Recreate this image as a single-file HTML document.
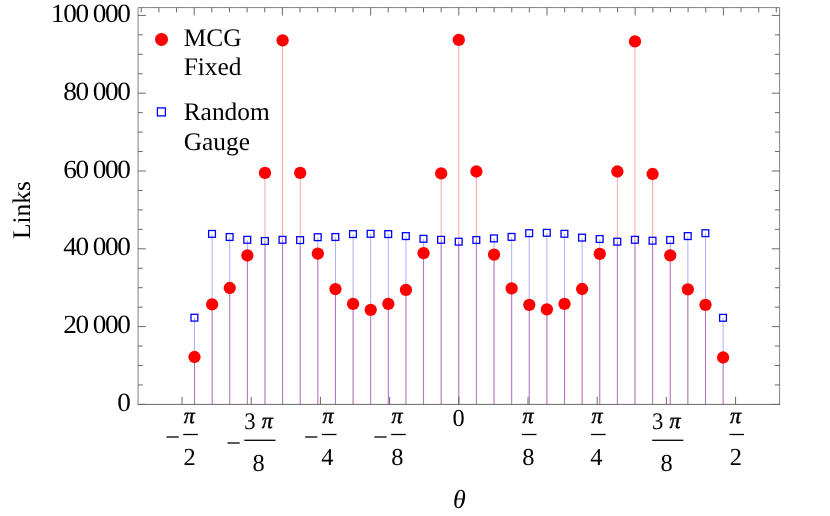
<!DOCTYPE html>
<html><head><meta charset="utf-8"><title>Links vs theta</title>
<style>html,body{margin:0;padding:0;background:#fff;}svg{display:block;}text{font-family:"Liberation Serif",serif;fill:#000;text-rendering:geometricPrecision;}svg{will-change:transform;}</style></head><body>
<svg width="830" height="516" viewBox="0 0 830 516">
<rect width="830" height="516" fill="#fff"/>
<g stroke="#ff0000" stroke-opacity="0.36" stroke-width="1">
<line x1="194.50" y1="357.00" x2="194.50" y2="404.40"/>
<line x1="212.12" y1="304.40" x2="212.12" y2="404.40"/>
<line x1="229.74" y1="288.00" x2="229.74" y2="404.40"/>
<line x1="247.36" y1="255.50" x2="247.36" y2="404.40"/>
<line x1="264.98" y1="172.95" x2="264.98" y2="404.40"/>
<line x1="282.60" y1="40.40" x2="282.60" y2="404.40"/>
<line x1="300.22" y1="172.95" x2="300.22" y2="404.40"/>
<line x1="317.84" y1="253.70" x2="317.84" y2="404.40"/>
<line x1="335.46" y1="289.10" x2="335.46" y2="404.40"/>
<line x1="353.08" y1="303.90" x2="353.08" y2="404.40"/>
<line x1="370.70" y1="309.90" x2="370.70" y2="404.40"/>
<line x1="388.32" y1="303.90" x2="388.32" y2="404.40"/>
<line x1="405.94" y1="289.90" x2="405.94" y2="404.40"/>
<line x1="423.56" y1="253.10" x2="423.56" y2="404.40"/>
<line x1="441.18" y1="173.40" x2="441.18" y2="404.40"/>
<line x1="458.80" y1="39.90" x2="458.80" y2="404.40"/>
<line x1="476.42" y1="171.50" x2="476.42" y2="404.40"/>
<line x1="494.04" y1="254.60" x2="494.04" y2="404.40"/>
<line x1="511.66" y1="288.40" x2="511.66" y2="404.40"/>
<line x1="529.28" y1="304.80" x2="529.28" y2="404.40"/>
<line x1="546.90" y1="309.30" x2="546.90" y2="404.40"/>
<line x1="564.52" y1="303.90" x2="564.52" y2="404.40"/>
<line x1="582.14" y1="289.00" x2="582.14" y2="404.40"/>
<line x1="599.76" y1="253.90" x2="599.76" y2="404.40"/>
<line x1="617.38" y1="171.50" x2="617.38" y2="404.40"/>
<line x1="635.00" y1="41.40" x2="635.00" y2="404.40"/>
<line x1="652.62" y1="174.00" x2="652.62" y2="404.40"/>
<line x1="670.24" y1="255.30" x2="670.24" y2="404.40"/>
<line x1="687.86" y1="289.30" x2="687.86" y2="404.40"/>
<line x1="705.48" y1="304.80" x2="705.48" y2="404.40"/>
<line x1="723.10" y1="357.50" x2="723.10" y2="404.40"/>
</g>
<g stroke="#0000ff" stroke-opacity="0.32" stroke-width="1">
<line x1="194.50" y1="317.70" x2="194.50" y2="404.40"/>
<line x1="212.12" y1="233.90" x2="212.12" y2="404.40"/>
<line x1="229.74" y1="237.00" x2="229.74" y2="404.40"/>
<line x1="247.36" y1="239.80" x2="247.36" y2="404.40"/>
<line x1="264.98" y1="241.00" x2="264.98" y2="404.40"/>
<line x1="282.60" y1="239.80" x2="282.60" y2="404.40"/>
<line x1="300.22" y1="240.10" x2="300.22" y2="404.40"/>
<line x1="317.84" y1="237.20" x2="317.84" y2="404.40"/>
<line x1="335.46" y1="237.00" x2="335.46" y2="404.40"/>
<line x1="353.08" y1="234.10" x2="353.08" y2="404.40"/>
<line x1="370.70" y1="233.80" x2="370.70" y2="404.40"/>
<line x1="388.32" y1="234.10" x2="388.32" y2="404.40"/>
<line x1="405.94" y1="236.10" x2="405.94" y2="404.40"/>
<line x1="423.56" y1="238.80" x2="423.56" y2="404.40"/>
<line x1="441.18" y1="239.80" x2="441.18" y2="404.40"/>
<line x1="458.80" y1="241.70" x2="458.80" y2="404.40"/>
<line x1="476.42" y1="240.00" x2="476.42" y2="404.40"/>
<line x1="494.04" y1="238.40" x2="494.04" y2="404.40"/>
<line x1="511.66" y1="236.90" x2="511.66" y2="404.40"/>
<line x1="529.28" y1="233.20" x2="529.28" y2="404.40"/>
<line x1="546.90" y1="232.80" x2="546.90" y2="404.40"/>
<line x1="564.52" y1="233.80" x2="564.52" y2="404.40"/>
<line x1="582.14" y1="237.60" x2="582.14" y2="404.40"/>
<line x1="599.76" y1="239.00" x2="599.76" y2="404.40"/>
<line x1="617.38" y1="241.70" x2="617.38" y2="404.40"/>
<line x1="635.00" y1="239.80" x2="635.00" y2="404.40"/>
<line x1="652.62" y1="240.70" x2="652.62" y2="404.40"/>
<line x1="670.24" y1="240.00" x2="670.24" y2="404.40"/>
<line x1="687.86" y1="236.10" x2="687.86" y2="404.40"/>
<line x1="705.48" y1="233.20" x2="705.48" y2="404.40"/>
<line x1="723.10" y1="317.80" x2="723.10" y2="404.40"/>
</g>
<path d="M138.05 404.4V7.6H779.6V404.4" stroke="#828282" stroke-width="1" fill="none"/>
<g stroke="#505050" stroke-width="0.85" fill="none">
<path d="M138.05 404.40h7.8M779.6 404.40h-7.8"/>
<path d="M138.05 384.95h4.7M779.6 384.95h-4.7"/>
<path d="M138.05 365.50h4.7M779.6 365.50h-4.7"/>
<path d="M138.05 346.05h4.7M779.6 346.05h-4.7"/>
<path d="M138.05 326.60h7.8M779.6 326.60h-7.8"/>
<path d="M138.05 307.15h4.7M779.6 307.15h-4.7"/>
<path d="M138.05 287.70h4.7M779.6 287.70h-4.7"/>
<path d="M138.05 268.25h4.7M779.6 268.25h-4.7"/>
<path d="M138.05 248.80h7.8M779.6 248.80h-7.8"/>
<path d="M138.05 229.35h4.7M779.6 229.35h-4.7"/>
<path d="M138.05 209.90h4.7M779.6 209.90h-4.7"/>
<path d="M138.05 190.45h4.7M779.6 190.45h-4.7"/>
<path d="M138.05 171.00h7.8M779.6 171.00h-7.8"/>
<path d="M138.05 151.55h4.7M779.6 151.55h-4.7"/>
<path d="M138.05 132.10h4.7M779.6 132.10h-4.7"/>
<path d="M138.05 112.65h4.7M779.6 112.65h-4.7"/>
<path d="M138.05 93.20h7.8M779.6 93.20h-7.8"/>
<path d="M138.05 73.75h4.7M779.6 73.75h-4.7"/>
<path d="M138.05 54.30h4.7M779.6 54.30h-4.7"/>
<path d="M138.05 34.85h4.7M779.6 34.85h-4.7"/>
<path d="M138.05 15.40h7.8M779.6 15.40h-7.8"/>
<path d="M141.28 7.6v4.8"/>
<path d="M158.92 7.6v4.8"/>
<path d="M176.56 7.6v4.8"/>
<path d="M194.20 7.6v7.9"/>
<path d="M211.84 7.6v4.8"/>
<path d="M229.48 7.6v4.8"/>
<path d="M247.12 7.6v4.8"/>
<path d="M264.76 7.6v4.8"/>
<path d="M282.40 7.6v7.9"/>
<path d="M300.04 7.6v4.8"/>
<path d="M317.68 7.6v4.8"/>
<path d="M335.32 7.6v4.8"/>
<path d="M352.96 7.6v4.8"/>
<path d="M370.60 7.6v7.9"/>
<path d="M388.24 7.6v4.8"/>
<path d="M405.88 7.6v4.8"/>
<path d="M423.52 7.6v4.8"/>
<path d="M441.16 7.6v4.8"/>
<path d="M458.80 7.6v7.9"/>
<path d="M476.44 7.6v4.8"/>
<path d="M494.08 7.6v4.8"/>
<path d="M511.72 7.6v4.8"/>
<path d="M529.36 7.6v4.8"/>
<path d="M547.00 7.6v7.9"/>
<path d="M564.64 7.6v4.8"/>
<path d="M582.28 7.6v4.8"/>
<path d="M599.92 7.6v4.8"/>
<path d="M617.56 7.6v4.8"/>
<path d="M635.20 7.6v7.9"/>
<path d="M652.84 7.6v4.8"/>
<path d="M670.48 7.6v4.8"/>
<path d="M688.12 7.6v4.8"/>
<path d="M705.76 7.6v4.8"/>
<path d="M723.40 7.6v7.9"/>
<path d="M741.04 7.6v4.8"/>
<path d="M758.68 7.6v4.8"/>
<path d="M776.32 7.6v4.8"/>
</g>
<g stroke="#686868" stroke-width="1" fill="none">
<path d="M137.55 404.4H780.1"/>
<path d="M182.03 404.4v-7.6" stroke="#505050" stroke-width="0.85"/>
<path d="M251.22 404.4v-7.6" stroke="#505050" stroke-width="0.85"/>
<path d="M320.41 404.4v-7.6" stroke="#505050" stroke-width="0.85"/>
<path d="M389.61 404.4v-7.6" stroke="#505050" stroke-width="0.85"/>
<path d="M458.80 404.4v-7.6" stroke="#505050" stroke-width="0.85"/>
<path d="M527.99 404.4v-7.6" stroke="#505050" stroke-width="0.85"/>
<path d="M597.19 404.4v-7.6" stroke="#505050" stroke-width="0.85"/>
<path d="M666.38 404.4v-7.6" stroke="#505050" stroke-width="0.85"/>
<path d="M735.57 404.4v-7.6" stroke="#505050" stroke-width="0.85"/>
</g>
<g fill="#ff0000">
<circle cx="194.50" cy="357.00" r="6.15"/>
<circle cx="212.12" cy="304.40" r="6.15"/>
<circle cx="229.74" cy="288.00" r="6.15"/>
<circle cx="247.36" cy="255.50" r="6.15"/>
<circle cx="264.98" cy="172.95" r="6.15"/>
<circle cx="282.60" cy="40.40" r="6.15"/>
<circle cx="300.22" cy="172.95" r="6.15"/>
<circle cx="317.84" cy="253.70" r="6.15"/>
<circle cx="335.46" cy="289.10" r="6.15"/>
<circle cx="353.08" cy="303.90" r="6.15"/>
<circle cx="370.70" cy="309.90" r="6.15"/>
<circle cx="388.32" cy="303.90" r="6.15"/>
<circle cx="405.94" cy="289.90" r="6.15"/>
<circle cx="423.56" cy="253.10" r="6.15"/>
<circle cx="441.18" cy="173.40" r="6.15"/>
<circle cx="458.80" cy="39.90" r="6.15"/>
<circle cx="476.42" cy="171.50" r="6.15"/>
<circle cx="494.04" cy="254.60" r="6.15"/>
<circle cx="511.66" cy="288.40" r="6.15"/>
<circle cx="529.28" cy="304.80" r="6.15"/>
<circle cx="546.90" cy="309.30" r="6.15"/>
<circle cx="564.52" cy="303.90" r="6.15"/>
<circle cx="582.14" cy="289.00" r="6.15"/>
<circle cx="599.76" cy="253.90" r="6.15"/>
<circle cx="617.38" cy="171.50" r="6.15"/>
<circle cx="635.00" cy="41.40" r="6.15"/>
<circle cx="652.62" cy="174.00" r="6.15"/>
<circle cx="670.24" cy="255.30" r="6.15"/>
<circle cx="687.86" cy="289.30" r="6.15"/>
<circle cx="705.48" cy="304.80" r="6.15"/>
<circle cx="723.10" cy="357.50" r="6.15"/>
<circle cx="161.5" cy="39.4" r="6.5"/>
</g>
<g fill="none" stroke="#0000ff" stroke-width="1.3">
<rect x="191.00" y="314.30" width="6.8" height="6.8"/>
<rect x="208.62" y="230.50" width="6.8" height="6.8"/>
<rect x="226.24" y="233.60" width="6.8" height="6.8"/>
<rect x="243.86" y="236.40" width="6.8" height="6.8"/>
<rect x="261.48" y="237.60" width="6.8" height="6.8"/>
<rect x="279.10" y="236.40" width="6.8" height="6.8"/>
<rect x="296.72" y="236.70" width="6.8" height="6.8"/>
<rect x="314.34" y="233.80" width="6.8" height="6.8"/>
<rect x="331.96" y="233.60" width="6.8" height="6.8"/>
<rect x="349.58" y="230.70" width="6.8" height="6.8"/>
<rect x="367.20" y="230.40" width="6.8" height="6.8"/>
<rect x="384.82" y="230.70" width="6.8" height="6.8"/>
<rect x="402.44" y="232.70" width="6.8" height="6.8"/>
<rect x="420.06" y="235.40" width="6.8" height="6.8"/>
<rect x="437.68" y="236.40" width="6.8" height="6.8"/>
<rect x="455.30" y="238.30" width="6.8" height="6.8"/>
<rect x="472.92" y="236.60" width="6.8" height="6.8"/>
<rect x="490.54" y="235.00" width="6.8" height="6.8"/>
<rect x="508.16" y="233.50" width="6.8" height="6.8"/>
<rect x="525.78" y="229.80" width="6.8" height="6.8"/>
<rect x="543.40" y="229.40" width="6.8" height="6.8"/>
<rect x="561.02" y="230.40" width="6.8" height="6.8"/>
<rect x="578.64" y="234.20" width="6.8" height="6.8"/>
<rect x="596.26" y="235.60" width="6.8" height="6.8"/>
<rect x="613.88" y="238.30" width="6.8" height="6.8"/>
<rect x="631.50" y="236.40" width="6.8" height="6.8"/>
<rect x="649.12" y="237.30" width="6.8" height="6.8"/>
<rect x="666.74" y="236.60" width="6.8" height="6.8"/>
<rect x="684.36" y="232.70" width="6.8" height="6.8"/>
<rect x="701.98" y="229.80" width="6.8" height="6.8"/>
<rect x="719.60" y="314.40" width="6.8" height="6.8"/>
<rect x="157.40" y="107.90" width="8.0" height="8.0"/>
</g>
<text transform="translate(117.35 411.00) scale(1.04 1)" x="0.00" y="0" font-size="26.2">0</text>
<text transform="translate(117.35 333.20) scale(1.04 1)" x="-52.12 -40.29 -26.06 -23.65 -11.83 0.00" y="0" font-size="26.2">20 000</text>
<text transform="translate(117.35 255.40) scale(1.04 1)" x="-52.12 -40.29 -26.06 -23.65 -11.83 0.00" y="0" font-size="26.2">40 000</text>
<text transform="translate(117.35 177.60) scale(1.04 1)" x="-52.12 -40.29 -26.06 -23.65 -11.83 0.00" y="0" font-size="26.2">60 000</text>
<text transform="translate(117.35 99.80) scale(1.04 1)" x="-52.12 -40.29 -26.06 -23.65 -11.83 0.00" y="0" font-size="26.2">80 000</text>
<text transform="translate(117.35 22.00) scale(1.04 1)" x="-63.94 -52.12 -40.29 -26.06 -23.65 -11.83 0.00" y="0" font-size="26.2">100 000</text>
<text x="183.7" y="46.1" font-size="25.4">MCG</text>
<text x="183.7" y="75.3" font-size="25.4">Fixed</text>
<text x="183.7" y="120.0" font-size="25.4">Random</text>
<text x="183.7" y="149.9" font-size="25.4">Gauge</text>
<text transform="translate(30 210.1) rotate(-90)" font-size="25.4" text-anchor="middle">Links</text>
<text x="459.4" y="507.8" font-size="26" font-style="italic" text-anchor="middle">θ</text>
<path d="M183.25 434.5H197.85" stroke="#000" stroke-width="1.3"/>
<text transform="translate(189.25 422.5) scale(1.0 1)" font-size="22.1" font-style="italic" text-anchor="middle" stroke="#000" stroke-width="0.4">π</text>
<text x="189.55" y="464.8" font-size="24.4" text-anchor="middle">2</text>
<path d="M166.45 437.0h12.2" stroke="#000" stroke-width="1.3"/>
<path d="M244.30 440.3H275.50" stroke="#000" stroke-width="1.3"/>
<text transform="translate(244.20 428.5) scale(0.93 0.97)" font-size="24.4">3</text>
<text transform="translate(272.80 428.0) scale(1.0 1)" font-size="22.1" font-style="italic" text-anchor="end" stroke="#000" stroke-width="0.4">π</text>
<text x="258.70" y="470.5" font-size="24.4" text-anchor="middle">8</text>
<path d="M227.50 443.0h12.2" stroke="#000" stroke-width="1.3"/>
<path d="M321.95 434.5H336.55" stroke="#000" stroke-width="1.3"/>
<text transform="translate(327.95 422.5) scale(1.0 1)" font-size="22.1" font-style="italic" text-anchor="middle" stroke="#000" stroke-width="0.4">π</text>
<text x="327.35" y="464.8" font-size="24.4" text-anchor="middle">4</text>
<path d="M305.15 437.0h12.2" stroke="#000" stroke-width="1.3"/>
<path d="M391.15 434.5H405.75" stroke="#000" stroke-width="1.3"/>
<text transform="translate(397.15 422.5) scale(1.0 1)" font-size="22.1" font-style="italic" text-anchor="middle" stroke="#000" stroke-width="0.4">π</text>
<text x="397.45" y="464.8" font-size="24.4" text-anchor="middle">8</text>
<path d="M374.35 437.0h12.2" stroke="#000" stroke-width="1.3"/>
<text x="458.5" y="426.4" font-size="24.4" text-anchor="middle">0</text>
<path d="M521.95 434.5H536.55" stroke="#000" stroke-width="1.3"/>
<text transform="translate(527.95 422.5) scale(1.0 1)" font-size="22.1" font-style="italic" text-anchor="middle" stroke="#000" stroke-width="0.4">π</text>
<text x="528.25" y="464.8" font-size="24.4" text-anchor="middle">8</text>
<path d="M591.05 434.5H605.65" stroke="#000" stroke-width="1.3"/>
<text transform="translate(597.05 422.5) scale(1.0 1)" font-size="22.1" font-style="italic" text-anchor="middle" stroke="#000" stroke-width="0.4">π</text>
<text x="596.45" y="464.8" font-size="24.4" text-anchor="middle">4</text>
<path d="M652.20 440.3H683.40" stroke="#000" stroke-width="1.3"/>
<text transform="translate(652.10 428.5) scale(0.93 0.97)" font-size="24.4">3</text>
<text transform="translate(680.70 428.0) scale(1.0 1)" font-size="22.1" font-style="italic" text-anchor="end" stroke="#000" stroke-width="0.4">π</text>
<text x="666.60" y="470.5" font-size="24.4" text-anchor="middle">8</text>
<path d="M729.45 434.5H744.05" stroke="#000" stroke-width="1.3"/>
<text transform="translate(735.45 422.5) scale(1.0 1)" font-size="22.1" font-style="italic" text-anchor="middle" stroke="#000" stroke-width="0.4">π</text>
<text x="735.75" y="464.8" font-size="24.4" text-anchor="middle">2</text>
</svg></body></html>
